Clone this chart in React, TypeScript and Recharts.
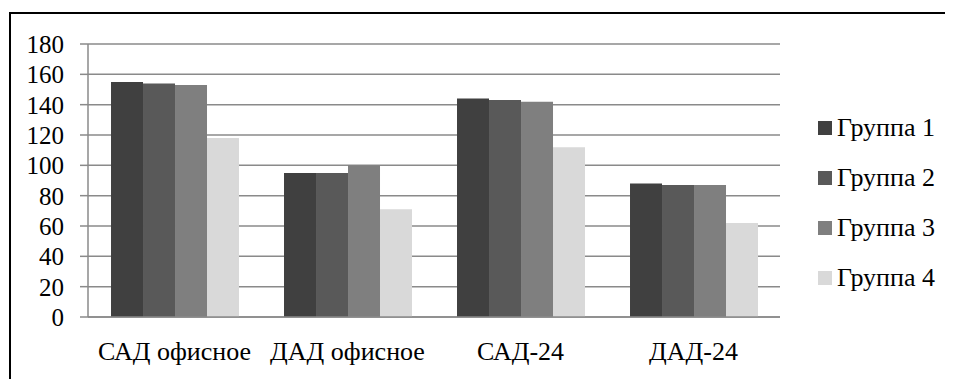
import React from 'react';
import { BarChart, Bar, XAxis, YAxis, CartesianGrid, Legend } from 'recharts';

const categories = ['САД офисное', 'ДАД офисное', 'САД-24', 'ДАД-24'];
const group1 = [155, 95, 144, 88];
const group2 = [154, 95, 143, 87];
const group3 = [153, 100, 142, 87];
const group4 = [118, 71, 112, 62];
const seriesNames = ['Группа 1', 'Группа 2', 'Группа 3', 'Группа 4'];
const seriesColors = ['#404040', '#595959', '#7f7f7f', '#d9d9d9'];
const yTicks = [0, 20, 40, 60, 80, 100, 120, 140, 160, 180];
const boundaryTicks = [0, 1, 2, 3, 4];

const data = categories.map((c, i) => ({
  name: c,
  g1: group1[i],
  g2: group2[i],
  g3: group3[i],
  g4: group4[i],
}));
const keys = ['g1', 'g2', 'g3', 'g4'];

const FONT = "'Liberation Serif', serif";
const GRID = '#8a8a8a';

const CSS = `
#root { display: inline-block; }
.chart-box text, .chart-box .lg-text { font-family: 'Liberation Serif', serif !important; }
`;

const LegendContent = (props: any) => {
  const { payload } = props;
  return (
    <div style={{ paddingLeft: 38, fontFamily: FONT }}>
      {(payload || []).map((p: any) => (
        <div key={p.value} style={{ height: 50, display: 'flex', alignItems: 'center', whiteSpace: 'nowrap' }}>
          <span style={{ display: 'inline-block', width: 14, height: 14, background: p.color, marginRight: 5, flex: 'none' }} />
          <span className="lg-text" style={{ fontFamily: FONT, fontSize: 26, color: '#000', lineHeight: '30px' }}>{p.value}</span>
        </div>
      ))}
    </div>
  );
};

export default function App() {
  return (
    <div className="chart-box" style={{ width: 945, fontFamily: FONT }}>
      <style>{CSS}</style>
      <div
        style={{
          marginLeft: 1,
          marginTop: 4,
          width: 942,
          height: 365,
          borderTop: '2px solid #000',
          borderLeft: '2px solid #000',
          background: '#fff',
        }}
      >
        <BarChart
          width={940}
          height={365}
          data={data}
          margin={{ top: 30, right: 21, bottom: 0, left: 0 }}
          barCategoryGap="13.3%"
          barGap={0}
        >
          <CartesianGrid horizontal vertical={false} stroke={GRID} strokeWidth={1.5} />
          <XAxis
            xAxisId="bounds"
            type="number"
            domain={[0, 4]}
            ticks={boundaryTicks}
            tickFormatter={() => ''}
            height={0}
            tickSize={8}
            axisLine={false}
            tickLine={{ stroke: GRID, strokeWidth: 1.5 }}
            allowDataOverflow
          />
          <XAxis
            dataKey="name"
            height={62}
            tickLine={false}
            tickSize={0}
            tickMargin={25}
            axisLine={{ stroke: GRID, strokeWidth: 1.5 }}
            tick={{ fontFamily: FONT, fontSize: 26, fill: '#000' }}
            interval={0}
          />
          <YAxis
            width={77}
            domain={[0, 180]}
            ticks={yTicks}
            tickSize={8}
            tickMargin={16}
            axisLine={{ stroke: GRID, strokeWidth: 1.5 }}
            tickLine={{ stroke: GRID, strokeWidth: 1.5 }}
            tick={{ fontFamily: FONT, fontSize: 25, fill: '#000' }}
            interval={0}
          />
          <Legend
            layout="vertical"
            align="right"
            verticalAlign="top"
            wrapperStyle={{ width: 150, top: 89 }}
            content={<LegendContent />}
          />
          {keys.map((k, i) => (
            <Bar key={k} dataKey={k} name={seriesNames[i]} fill={seriesColors[i]} isAnimationActive={false} />
          ))}
        </BarChart>
      </div>
    </div>
  );
}
